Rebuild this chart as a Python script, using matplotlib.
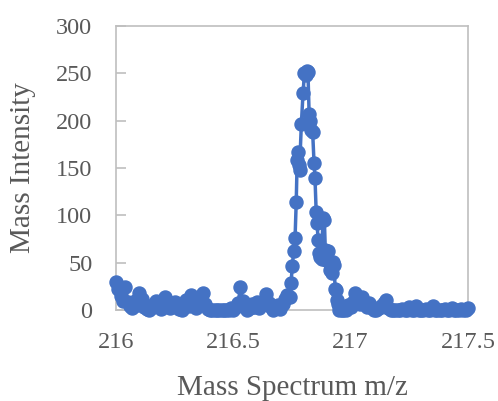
import matplotlib
matplotlib.use("Agg")
import matplotlib.pyplot as plt

mz = [216.000, 216.010, 216.020, 216.030, 216.040, 216.050, 216.060, 216.070, 216.080, 216.090,
      216.100, 216.110, 216.120, 216.130, 216.140, 216.150, 216.160, 216.170, 216.180, 216.190,
      216.200, 216.210, 216.220, 216.230, 216.240, 216.250, 216.260, 216.270, 216.280, 216.290,
      216.300, 216.310, 216.320, 216.330, 216.340, 216.350, 216.360, 216.370, 216.380, 216.390,
      216.400, 216.410, 216.420, 216.430, 216.440, 216.450, 216.460, 216.470, 216.480, 216.490,
      216.500, 216.510, 216.520, 216.530, 216.540, 216.550, 216.560, 216.570, 216.580, 216.590,
      216.600, 216.610, 216.620, 216.630, 216.640, 216.650, 216.660, 216.670, 216.680, 216.690,
      216.700, 216.710, 216.720, 216.728, 216.734, 216.741, 216.746, 216.751, 216.757, 216.763,
      216.768, 216.772, 216.777, 216.779, 216.782, 216.790, 216.797, 216.803, 216.808, 216.813,
      216.818, 216.823, 216.827, 216.832, 216.838, 216.844, 216.848, 216.853, 216.857, 216.861,
      216.866, 216.871, 216.876, 216.882, 216.888, 216.892, 216.897, 216.903, 216.909, 216.914,
      216.919, 216.924, 216.929, 216.934, 216.939, 216.943, 216.947, 216.951, 216.956, 216.962,
      216.968, 216.975, 216.982, 216.990,
      217.000, 217.010, 217.020, 217.030, 217.040, 217.050, 217.060, 217.070, 217.080, 217.090,
      217.100, 217.110, 217.120, 217.130, 217.140, 217.150, 217.160, 217.170, 217.180, 217.190,
      217.200, 217.210, 217.220, 217.230, 217.240, 217.250, 217.260, 217.270, 217.280, 217.290,
      217.300, 217.310, 217.320, 217.330, 217.340, 217.350, 217.360, 217.370, 217.380, 217.390,
      217.400, 217.410, 217.420, 217.430, 217.440, 217.450, 217.460, 217.470, 217.480, 217.490,
      217.500]

intensity = [30, 22, 15, 10, 24, 8, 4, 2, 9, 5,
             18, 12, 3, 1, 0, 2, 6, 9, 4, 1,
             3, 14, 7, 2, 5, 8, 3, 1, 0, 6,
             11, 4, 16, 9, 2, 5, 12, 18, 6, 1,
             0, 0, 0, 0, 0, 0, 0, 0, 0, 2,
             0, 3, 7, 24, 10, 4, 0, 2, 6, 3,
             8, 2, 5, 10, 17, 7, 3, 0, 2, 5,
             1, 6, 12, 16, 14, 14, 28, 46, 62, 76,
             114, 158, 167, 153, 148, 197, 229, 250, 248, 252,
             251, 207, 200, 190, 188, 155, 139, 104, 92, 74,
             60, 56, 54, 97, 95, 63, 53, 62, 51, 42,
             39, 51, 48, 22, 21, 11, 6, 0, 3, 0,
             0, 2, 0, 5,
             3, 8, 18, 12, 6, 14, 7, 3, 7, 2,
             0, 0, 2, 4, 7, 11, 2, 0, 0, 0,
             0, 0, 1, 0, 0, 3, 0, 0, 4, 0,
             0, 0, 1, 0, 0, 4, 0, 0, 0, 0,
             1, 0, 0, 2, 0, 0, 0, 1, 0, 0,
             2]

xticks = [216, 216.5, 217, 217.5]
xtick_labels = ["216", "216.5", "217", "217.5"]
yticks = [0, 50, 100, 150, 200, 250, 300]

blue = "#4472C4"
gray_text = "#595959"
spine_gray = "#BFBFBF"

plt.rcParams['font.family'] = ['Liberation Serif', 'DejaVu Serif']

fig = plt.figure(figsize=(4.98, 4.01), dpi=100)
ax = fig.add_axes([116/498, 1 - 310/401, (468-116)/498, (310-26)/401])

ax.plot(mz, intensity, color=blue, linewidth=2.5, marker='o', markersize=9.4,
        markerfacecolor=blue, markeredgecolor=blue, clip_on=False, zorder=3)

ax.set_xlim(216, 217.5)
ax.set_ylim(0, 300)
ax.set_xticks(xticks)
ax.set_xticklabels(xtick_labels)
ax.set_yticks(yticks)

for s in ax.spines.values():
    s.set_color(spine_gray)
    s.set_linewidth(1.2)

ax.tick_params(axis='y', direction='in', length=7, width=1.2, color=spine_gray,
               labelsize=17.5, labelcolor=gray_text, pad=17)
ax.tick_params(axis='x', length=0, labelsize=17.5, labelcolor=gray_text, pad=16)

ax.set_xlabel("Mass Spectrum m/z", fontsize=21, color=gray_text)
ax.set_ylabel("Mass Intensity", fontsize=21, color=gray_text)
ax.xaxis.label.set_va('center')
ax.yaxis.label.set_va('center')
ax.xaxis.set_label_coords(0.5, (310 - 388) / 284)
ax.yaxis.set_label_coords((23 - 116) / 352, 0.5)

fig.savefig("out.png", dpi=100)
